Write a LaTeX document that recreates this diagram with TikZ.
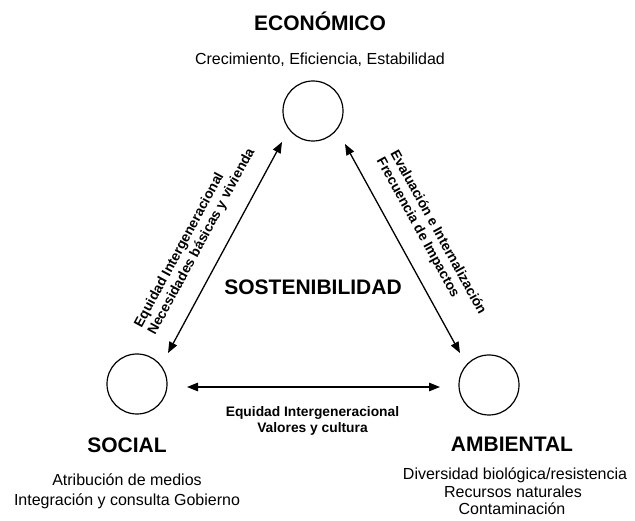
\documentclass[tikz,border=0pt]{standalone}
\usepackage{fontspec}
\setmainfont{Liberation Sans}
\usetikzlibrary{arrows.meta}
\begin{document}
\begin{tikzpicture}[x=1pt,y=-1pt,
  circ/.style={circle,draw,line width=1.2pt,minimum size=60pt,inner sep=0pt},
  ttl/.style={font=\fontsize{21}{24}\selectfont\bfseries,anchor=base,inner sep=0pt},
  sub/.style={font=\fontsize{16}{20}\selectfont,anchor=base,inner sep=0pt},
  lbl/.style={font=\fontsize{13.8}{15.5}\selectfont\bfseries,inner sep=0pt},
  conn/.style={line width=1.3pt,{Triangle[length=11pt,width=8.5pt]}-{Triangle[length=11pt,width=8.5pt]}}]
\useasboundingbox (0,0) rectangle (635,521);
% circles
\node[circ] (eco) at (313,111) {};
\node[circ] (soc) at (137,384) {};
\node[circ] (amb) at (489,385) {};
% arrow end points
\coordinate (l1) at (168,353);
\coordinate (l2) at (282,142);
\coordinate (r1) at (345,144);
\coordinate (r2) at (460,353);
\coordinate (h1) at (187,387);
\coordinate (h2) at (440,387);
% connectors
\draw[conn] (l1) -- node[sloped,lbl,align=left,anchor=south,yshift=16pt,xshift=-6pt] {Equidad Intergeneracional\\Necesidades básicas y vivienda} (l2);
\draw[conn] (r1) -- node[sloped,lbl,align=left,anchor=south,yshift=16pt,xshift=3pt] {Evaluación e Internalización\\Frecuencia de Impactos} (r2);
\draw[conn] (h1) -- node[lbl,align=center,anchor=north,yshift=-19pt,xshift=-1pt] {Equidad Intergeneracional\\Valores y cultura} (h2);
% titles
\node[ttl] (tEco) at (320,31) {ECONÓMICO};
\node[sub] (sEco) at (320,65) {Crecimiento, Eficiencia, Estabilidad};
\node[ttl] (tSos) at (313,295) {SOSTENIBILIDAD};
\node[ttl] (tSoc) at (127,453) {SOCIAL};
\node[sub] (sSoc1) at (127,485) {Atribución de medios};
\node[sub] (sSoc2) at (127,505) {Integración y consulta Gobierno};
\node[ttl] (tAmb) at (512,452) {AMBIENTAL};
\node[sub] (sAmb1) at (515,479) {Diversidad biológica/resistencia};
\node[sub] (sAmb2) at (513,497) {Recursos naturales};
\node[sub] (sAmb3) at (512,514) {Contaminación};
\end{tikzpicture}
\end{document}
